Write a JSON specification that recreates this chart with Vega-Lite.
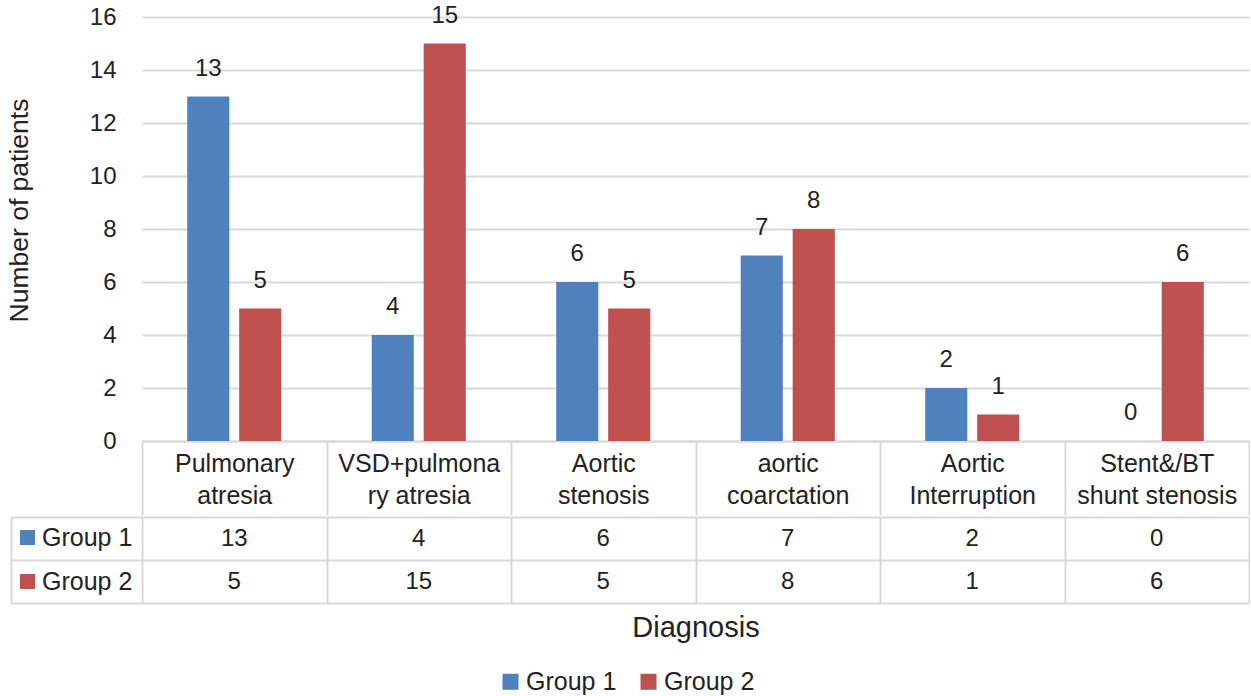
{
  "$schema": "https://vega.github.io/schema/vega-lite/v6.json",
  "background": "white",
  "padding": {"left": 5, "top": 3, "right": 0, "bottom": 0},
  "config": {
    "font": "Liberation Sans",
    "view": {"stroke": null},
    "axis": {"labelColor": "#222222", "titleColor": "#222222", "titleFontWeight": "normal"},
    "legend": {"labelColor": "#222222"}
  },
  "datasets": {
    "counts": [
      {"diagnosis": "Pulmonary atresia", "group": "Group 1", "patients": 13},
      {"diagnosis": "Pulmonary atresia", "group": "Group 2", "patients": 5},
      {"diagnosis": "VSD+pulmonary atresia", "group": "Group 1", "patients": 4},
      {"diagnosis": "VSD+pulmonary atresia", "group": "Group 2", "patients": 15},
      {"diagnosis": "Aortic stenosis", "group": "Group 1", "patients": 6},
      {"diagnosis": "Aortic stenosis", "group": "Group 2", "patients": 5},
      {"diagnosis": "aortic coarctation", "group": "Group 1", "patients": 7},
      {"diagnosis": "aortic coarctation", "group": "Group 2", "patients": 8},
      {"diagnosis": "Aortic Interruption", "group": "Group 1", "patients": 2},
      {"diagnosis": "Aortic Interruption", "group": "Group 2", "patients": 1},
      {"diagnosis": "Stent&/BT shunt stenosis", "group": "Group 1", "patients": 0},
      {"diagnosis": "Stent&/BT shunt stenosis", "group": "Group 2", "patients": 6}
    ]
  },
  "spacing": 0,
  "resolve": {"scale": {"fill": "independent"}, "legend": {"fill": "independent"}},
  "vconcat": [
    {
      "width": 1107,
      "height": 424,
      "data": {"name": "counts"},
      "encoding": {
        "x": {
          "field": "diagnosis", "type": "nominal", "sort": null,
          "scale": {"paddingInner": 0, "paddingOuter": 0},
          "axis": {
            "title": null, "grid": false,
            "domain": true, "domainColor": "#d9d9d9", "domainWidth": 2,
            "ticks": true, "tickBand": "extent", "tickSize": 74, "tickColor": "#d9d9d9", "tickWidth": 2,
            "labelAngle": 0, "labelFontSize": 25, "labelLineHeight": 32, "labelBaseline": "top",
            "labelPadding": -64, "labelLimit": 0, "labelOverlap": false,
            "labelExpr": "datum.label == 'VSD+pulmonary atresia' ? ['VSD+pulmona', 'ry atresia'] : datum.label == 'Stent&/BT shunt stenosis' ? ['Stent&/BT', 'shunt stenosis'] : split(datum.label, ' ')"
          }
        },
        "xOffset": {
          "field": "group", "type": "nominal",
          "scale": {"domain": ["Group 1", "Group 2"], "paddingInner": 0.19, "paddingOuter": 0.87}
        },
        "y": {
          "field": "patients", "type": "quantitative",
          "scale": {"domain": [0, 16]},
          "axis": {
            "values": [0, 2, 4, 6, 8, 10, 12, 14, 16],
            "title": "Number of patients", "titleFontSize": 26.5,
            "titleX": -123, "titleY": 193, "titleAngle": -90, "titleAlign": "center", "titleBaseline": "middle",
            "labelFontSize": 24, "labelPadding": 26, "ticks": false, "domain": false,
            "grid": true, "gridColor": "#d9d9d9", "gridWidth": 2
          }
        }
      },
      "layer": [
        {
          "mark": {"type": "bar"},
          "encoding": {
            "color": {
              "field": "group", "type": "nominal",
              "scale": {"domain": ["Group 1", "Group 2"], "range": ["#4f81bd", "#c0504d"]},
              "legend": {
                "title": null, "orient": "none", "legendX": 356, "legendY": 652,
                "direction": "horizontal", "symbolType": "square", "symbolSize": 256,
                "symbolStrokeWidth": 0, "labelFontSize": 25, "labelOffset": 3,
                "columnPadding": 19, "padding": 0
              }
            }
          }
        },
        {
          "mark": {"type": "text", "baseline": "alphabetic", "dy": -21, "fontSize": 24, "color": "#222222"},
          "encoding": {"text": {"field": "patients", "type": "quantitative"}}
        }
      ]
    },
    {
      "width": 1107,
      "height": 86,
      "data": {"name": "counts"},
      "encoding": {
        "x": {
          "field": "diagnosis", "type": "nominal", "sort": null,
          "scale": {"paddingInner": 0, "paddingOuter": 0},
          "axis": {
            "title": "Diagnosis", "titleFontSize": 29, "titlePadding": 10,
            "labels": false, "ticks": false, "domain": false,
            "grid": true, "tickBand": "extent", "gridColor": "#d9d9d9", "gridWidth": 2
          }
        },
        "y": {
          "field": "group", "type": "nominal",
          "scale": {"domain": ["Group 1", "Group 2"], "paddingInner": 0, "paddingOuter": 0},
          "axis": {
            "title": null, "labels": false,
            "ticks": true, "tickSize": -131, "tickBand": "extent", "tickColor": "#d9d9d9", "tickWidth": 2,
            "offset": 131, "domain": true, "domainColor": "#d9d9d9", "domainWidth": 2,
            "grid": true, "gridColor": "#d9d9d9", "gridWidth": 2
          }
        }
      },
      "layer": [
        {
          "mark": {"type": "rect", "opacity": 0},
          "encoding": {
            "fill": {
              "field": "group", "type": "nominal",
              "scale": {"domain": ["Group 1", "Group 2"], "range": ["#4f81bd", "#c0504d"]},
              "legend": {
                "title": null, "orient": "none", "legendX": -127, "legendY": 8,
                "direction": "vertical", "symbolType": "square", "symbolSize": 225,
                "symbolOpacity": 1, "symbolStrokeWidth": 0, "labelFontSize": 25,
                "labelOffset": 2, "rowPadding": 18, "padding": 0
              }
            }
          }
        },
        {
          "mark": {"type": "text", "fontSize": 24, "color": "#222222"},
          "encoding": {"text": {"field": "patients", "type": "quantitative"}}
        }
      ]
    }
  ]
}
